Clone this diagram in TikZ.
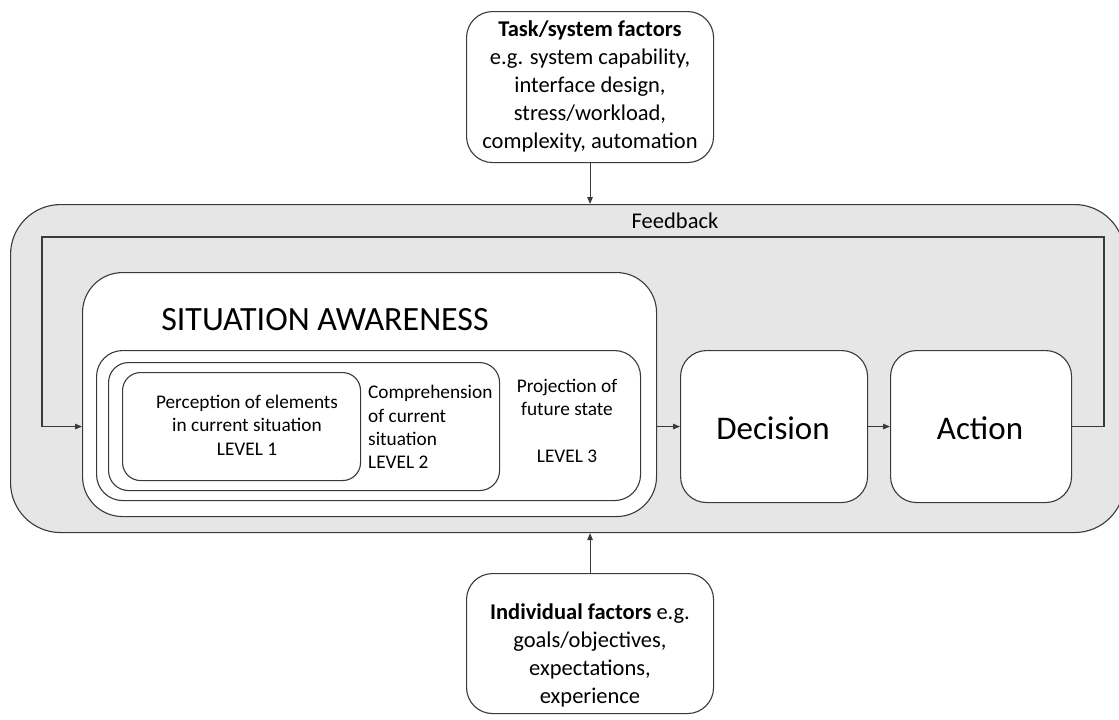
\documentclass[tikz,border=0pt]{standalone}
\usepackage{fontspec}
\setmainfont{Carlito}
\usetikzlibrary{arrows.meta}
\definecolor{edge}{HTML}{3A3A3A}
\definecolor{panel}{HTML}{E6E6E6}
\begin{document}
\begin{tikzpicture}[x=1pt,y=-1pt,
  line/.style={draw=edge, line width=1.1pt},
  box/.style={line, fill=white, rounded corners=#1, anchor=north west, inner sep=0pt},
  arr/.style={line, -{Triangle[length=7pt,width=5.5pt]}},
  factor/.style={font=\fontsize{22.5pt}{28pt}\selectfont, align=center, inner sep=0pt},
  level/.style={font=\fontsize{19.3pt}{23.3pt}\selectfont, inner sep=0pt},
  big/.style={font=\fontsize{33pt}{38pt}\selectfont, inner sep=0pt}]
\useasboundingbox (0,0) rectangle (1119,720);
\clip (0,0) rectangle (1119,720);

% shaded panel holding the whole loop
\node[box=50pt, fill=panel, minimum width=1114pt, minimum height=328pt] (outer) at (10,204) {};

% factor boxes
\node[box=26pt, minimum width=247pt, minimum height=151pt] (task) at (466,11) {};
\node[factor] (tasktxt) at (590,86) {\textbf{Task/system factors}\\e.g. system capability,\\interface design,\\stress/workload,\\complexity, automation};
\node[box=26pt, minimum width=247pt, minimum height=140pt] (indiv) at (466,573) {};
\node[factor] (indivtxt) at (590,655) {\textbf{Individual factors} e.g.\\goals/objectives,\\expectations,\\experience};

% situation awareness and its three levels
\node[box=40pt, minimum width=574pt, minimum height=244pt] (sa) at (82,272) {};
\node[inner sep=0pt, font=\fontsize{34pt}{38pt}\selectfont] (satitle) at (325,320) {SITUATION AWARENESS};
\node[box=26pt, minimum width=544pt, minimum height=150pt] (lvl3) at (96,350) {};
\node[box=20pt, minimum width=391pt, minimum height=128pt] (lvl2) at (108,362) {};
\node[box=18pt, minimum width=238pt, minimum height=108pt] (lvl1) at (122,372) {};
\node[level, align=center] (lvl1txt) at (247,425) {Perception of elements\\in current situation\\LEVEL 1};
\node[level, align=left, anchor=west] (lvl2txt) at (368,427) {Comprehension\\of current\\situation\\LEVEL 2};
\node[level, align=center] (lvl3txt) at (567,421) {Projection of\\future state\\[23.3pt]LEVEL 3};

% decision and action
\node[box=26pt, minimum width=187pt, minimum height=152pt] (decision) at (680,350) {};
\node[big] (dectxt) at (773,428) {Decision};
\node[box=26pt, minimum width=181pt, minimum height=152pt] (action) at (890,350) {};
\node[big] (acttxt) at (980,428) {Action};

% connectors
\draw[arr] (sa.east |- decision.west) -- (decision.west);
\draw[arr] (decision.east) -- (action.west);
\coordinate (fbR) at (1104,237);
\coordinate (fbL) at (42,237);
\draw[arr] (action.east) -| (fbR) -- (fbL) |- (sa.west |- action.east);
\node[inner sep=0pt, font=\fontsize{22.5pt}{26pt}\selectfont, anchor=base] (fbtxt) at (675,228) {Feedback};
\draw[arr] (task.south) -- (task.south |- outer.north);
\draw[arr] (indiv.north) -- (indiv.north |- outer.south);
\end{tikzpicture}
\end{document}
